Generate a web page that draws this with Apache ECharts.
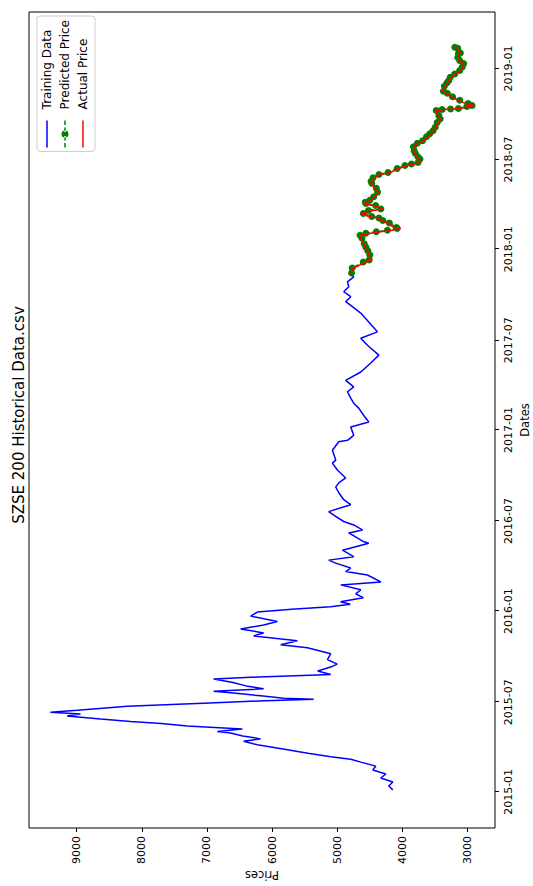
<!DOCTYPE html>
<html><head><meta charset="utf-8">
<script src="https://cdn.jsdelivr.net/npm/echarts@6/dist/echarts.min.js"></script>
<style>
html,body{margin:0;padding:0;width:533px;height:886px;overflow:hidden;background:#fff}
#wrap{position:absolute;left:0;top:0;width:886px;height:533px;transform-origin:0 0;transform:translate(0px,886px) rotate(-90deg)}
#chart{width:886px;height:533px}
</style></head><body>
<div id="wrap"><div id="chart"></div></div>
<script>
const trainDates = ['2015-01-05','2015-01-13','2015-01-21','2015-01-29','2015-02-06','2015-02-14','2015-02-22','2015-03-02','2015-03-08','2015-03-13','2015-03-20','2015-03-27','2015-04-06','2015-04-13','2015-04-18','2015-04-24','2015-04-30','2015-05-03','2015-05-08','2015-05-14','2015-05-19','2015-05-23','2015-05-28','2015-06-03','2015-06-07','2015-06-11','2015-06-15','2015-06-19','2015-06-23','2015-06-29','2015-07-01','2015-07-04','2015-07-07','2015-07-09','2015-07-14','2015-07-20','2015-07-23','2015-07-28','2015-08-03','2015-08-10','2015-08-17','2015-08-21','2015-08-26','2015-09-02','2015-09-10','2015-09-16','2015-09-25','2015-10-07','2015-10-19','2015-10-25','2015-11-02','2015-11-12','2015-11-18','2015-11-26','2015-12-04','2015-12-11','2015-12-22','2015-12-30','2016-01-05','2016-01-10','2016-01-15','2016-01-20','2016-01-28','2016-02-05','2016-02-13','2016-02-23','2016-02-29','2016-03-14','2016-03-21','2016-03-28','2016-04-07','2016-04-13','2016-04-20','2016-05-03','2016-05-17','2016-05-20','2016-06-07','2016-06-13','2016-06-23','2016-06-30','2016-07-13','2016-07-20','2016-08-03','2016-08-13','2016-08-27','2016-09-08','2016-09-16','2016-09-26','2016-10-12','2016-10-26','2016-11-01','2016-11-21','2016-12-08','2016-12-11','2016-12-21','2017-01-07','2017-01-17','2017-01-30','2017-02-14','2017-02-24','2017-03-06','2017-03-19','2017-03-29','2017-04-11','2017-04-28','2017-05-16','2017-06-01','2017-06-21','2017-07-05','2017-07-18','2017-08-07','2017-08-25','2017-09-07','2017-09-17','2017-09-27','2017-10-07','2017-10-17','2017-10-27','2017-11-06','2017-11-14'];
const trainPrices = [4147,4209,4147,4331,4254,4454,4408,4639,4793,5100,5450,5765,6226,6437,6176,6450,6637,6841,6457,7302,7700,8173,8634,9146,8942,9403,8992,8600,8224,7052,6687,6100,5362,5822,6176,6637,6898,6130,6400,6600,6898,6200,5100,5300,5100,5000,5150,5100,5458,5868,5612,6283,6130,6483,6130,5919,6329,6226,5700,5100,4800,4950,4600,4716,4639,4946,4331,4536,4870,4793,5023,5131,4747,4920,4516,4590,4823,4613,4747,4900,5054,5131,4793,4900,4977,5023,4977,4870,4997,5074,5023,5074,4977,4843,4747,4793,4516,4593,4670,4747,4793,4843,4747,4870,4639,4485,4362,4536,4639,4383,4516,4639,4767,4870,4793,4900,4823,4843,4747,4793];
const testDates = ['2017-11-14','2017-11-24','2017-12-06','2017-12-10','2017-12-20','2017-12-29','2018-01-05','2018-01-12','2018-01-23','2018-01-29','2018-02-02','2018-02-05','2018-02-08','2018-02-12','2018-02-14','2018-02-23','2018-02-28','2018-03-05','2018-03-08','2018-03-14','2018-03-20','2018-03-23','2018-03-30','2018-04-03','2018-04-06','2018-04-10','2018-04-17','2018-04-26','2018-05-04','2018-05-14','2018-05-18','2018-05-25','2018-06-01','2018-06-05','2018-06-13','2018-06-19','2018-06-22','2018-06-25','2018-07-02','2018-07-06','2018-07-13','2018-07-19','2018-07-27','2018-08-03','2018-08-08','2018-08-16','2018-08-22','2018-08-28','2018-09-04','2018-09-14','2018-09-21','2018-09-28','2018-10-08','2018-10-10','2018-10-11','2018-10-12','2018-10-16','2018-10-18','2018-10-22','2018-10-29','2018-11-05','2018-11-12','2018-11-16','2018-11-26','2018-12-03','2018-12-07','2018-12-14','2018-12-21','2018-12-28','2019-01-04','2019-01-11','2019-01-17','2019-01-23','2019-01-31','2019-02-01','2019-02-11','2019-02-13'];
const actualPrices = [4793,4747,4562,4485,4516,4536,4578,4593,4639,4639,4485,4331,4147,4025,4132,4229,4331,4383,4516,4639,4454,4285,4454,4593,4547,4485,4424,4362,4424,4485,4470,4439,4331,4178,4055,3922,3825,3717,3748,3768,3809,3825,3825,3748,3671,3610,3564,3518,3487,3456,3410,3456,3487,3364,3226,3103,2980,2903,3026,3154,3256,3333,3384,3349,3307,3287,3256,3180,3103,3072,3057,3134,3154,3134,3103,3164,3210];
const predictedPrices = [4780,4770,4600,4510,4500,4530,4560,4585,4620,4650,4560,4400,4230,4080,4090,4200,4300,4360,4470,4600,4520,4330,4410,4560,4570,4500,4440,4380,4400,4470,4480,4450,4360,4220,4080,3960,3860,3760,3730,3760,3800,3820,3830,3770,3690,3630,3580,3530,3495,3465,3420,3440,3480,3390,3260,3140,3010,2930,2990,3120,3230,3310,3370,3355,3315,3290,3265,3195,3120,3080,3060,3120,3150,3140,3110,3150,3195];
const dateTicks = ['2015-01-01','2015-07-01','2016-01-01','2016-07-01','2017-01-01','2017-07-01','2018-01-01','2018-07-01','2019-01-01'];
const dateTickLabels = ['2015-01','2015-07','2016-01','2016-07','2017-01','2017-07','2018-01','2018-07','2019-01'];
const priceTicks = [3000,4000,5000,6000,7000,8000,9000];

function ts(s){const p=s.split('-').map(Number);return Date.UTC(p[0],p[1]-1,p[2]);}
const tickTs = dateTicks.map(ts);
const FONT = 'DejaVu Sans';
const LINE_ICON = 'path://M0,0H27V1.5H0Z';
const DASH_DOT_ICON = 'path://M0,2.75H4.5V4.25H0Z M7,2.75H11.5V4.25H7Z M15.5,2.75H20V4.25H15.5Z M22.5,2.75H27V4.25H22.5Z M10,3.5A3.5,3.5,0,1,0,17,3.5A3.5,3.5,0,1,0,10,3.5Z';
const chart = echarts.init(document.getElementById('chart'), null, {renderer:'svg', width:886, height:533});
chart.setOption({
  animation:false,
  backgroundColor:'#fff',
  title:{text:'SZSE 200 Historical Data.csv', left:466, top:6, textAlign:'center',
    textStyle:{fontFamily:FONT, fontSize:15, fontWeight:'normal', color:'#000'}},
  grid:{left:58, right:12, top:29, bottom:38, show:true, borderColor:'#000', borderWidth:1, backgroundColor:'transparent', outerBoundsMode:'none', containLabel:false},
  legend:{orient:'vertical', right:16, top:37, itemWidth:27, itemHeight:9, itemGap:6, symbolKeepAspect:true,
    padding:[4,4,6,4], backgroundColor:'rgba(255,255,255,0.8)', borderColor:'#cccccc', borderWidth:1, borderRadius:3,
    textStyle:{fontFamily:FONT, fontSize:12, color:'#000', padding:[0,0,0,6]},
    data:[{name:'Training Data', icon:LINE_ICON},{name:'Predicted Price', icon:DASH_DOT_ICON},{name:'Actual Price', icon:LINE_ICON}]},
  xAxis:{type:'value', min:ts('2014-10-20'), max:ts('2019-04-25'), name:'Dates', nameLocation:'middle', nameGap:24, nameMoveOverlap:false,
    nameTextStyle:{fontFamily:FONT, fontSize:11.5, color:'#000'},
    axisLine:{show:false}, splitLine:{show:false},
    axisTick:{show:true, length:4, inside:false, customValues:tickTs, lineStyle:{color:'#000', width:1}},
    axisLabel:{customValues:tickTs, margin:8, fontFamily:FONT, fontSize:11, color:'#000',
      formatter:function(v){const i=tickTs.indexOf(v); return i>=0 ? dateTickLabels[i] : '';}}},
  yAxis:{type:'value', min:2578, max:9732, name:'Prices', nameLocation:'middle', nameGap:41, nameMoveOverlap:false,
    nameTextStyle:{fontFamily:FONT, fontSize:11.5, color:'#000'},
    axisLine:{show:false}, splitLine:{show:false},
    axisTick:{show:true, length:4, customValues:priceTicks, lineStyle:{color:'#000', width:1}},
    axisLabel:{customValues:priceTicks, margin:8, fontFamily:FONT, fontSize:11, color:'#000',
      formatter:function(v){return String(v);}}},
  series:[
    {name:'Training Data', type:'line', symbol:'none', lineStyle:{color:'#0000ff', width:1.5}, itemStyle:{color:'#0000ff'},
      data:trainDates.map((d,i)=>[ts(d),trainPrices[i]]), z:2},
    {name:'Predicted Price', type:'line', symbol:'circle', symbolSize:7, showSymbol:true, lineStyle:{color:'#008000', width:1.5, type:[5,2]},
      itemStyle:{color:'#008000', borderWidth:0}, data:testDates.map((d,i)=>[ts(d),predictedPrices[i]]), z:3},
    {name:'Actual Price', type:'line', symbol:'none', lineStyle:{color:'#ff0000', width:1.5}, itemStyle:{color:'#ff0000'},
      data:testDates.map((d,i)=>[ts(d),actualPrices[i]]), z:4}
  ]
});
</script></body></html>
